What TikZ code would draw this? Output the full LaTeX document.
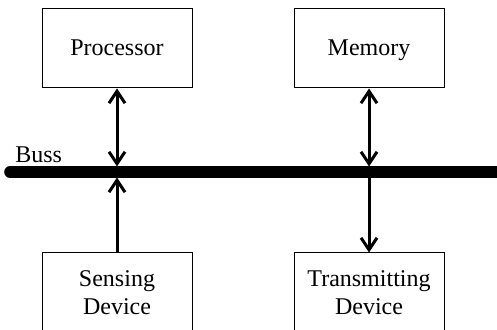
\documentclass[tikz,border=0pt]{standalone}
\usepackage{fontspec}
\setmainfont{Liberation Serif}
\usetikzlibrary{arrows.meta}

\tikzstyle{unit}=[draw, line width=0.5pt, minimum width=75pt, minimum height=39.5pt, align=center, font=\fontsize{12}{14}\selectfont]
\tikzstyle{oneline}=[text height=10pt, text depth=2.5pt]
\tikzstyle{arrow}=[line width=1.5pt, -{Straight Barb[length=6pt,width=8pt]}]
\tikzstyle{twoway}=[line width=1.5pt, {Straight Barb[length=6pt,width=8pt]}-{Straight Barb[length=6pt,width=8pt]}]
\tikzstyle{bus}=[line width=5.8pt, line cap=round]

\begin{document}
\begin{tikzpicture}[x=0.5pt, y=-0.5pt]
      \clip (0,0) rectangle (497,330);

      \node[unit, oneline] (proc) at (117, 48.5) {Processor};
      \node[unit, oneline] (mem) at (369, 48.5) {Memory};
      \node[unit] (sens) at (117, 292.5) {Sensing\\Device};
      \node[unit] (trans) at (369, 292.5) {Transmitting\\Device};

      \coordinate (busL) at (10, 172);
      \coordinate (busR) at (520, 172);
      \draw[bus] (busL) -- (busR);
      \node[anchor=base west, inner sep=0pt, font=\fontsize{12}{14}\selectfont] (label) at (15, 163) {Buss};

      \coordinate (procTop) at (117, 166.5);
      \coordinate (memTop) at (369, 166.5);
      \coordinate (sensBot) at (117, 177.5);
      \coordinate (transBot) at (369, 177.5);

      \draw[twoway] (proc.south) to (procTop);
      \draw[twoway] (mem.south) to (memTop);
      \draw[arrow] (sens.north) to (sensBot);
      \draw[arrow] (transBot) to (trans.north);
    \end{tikzpicture}
\end{document}
